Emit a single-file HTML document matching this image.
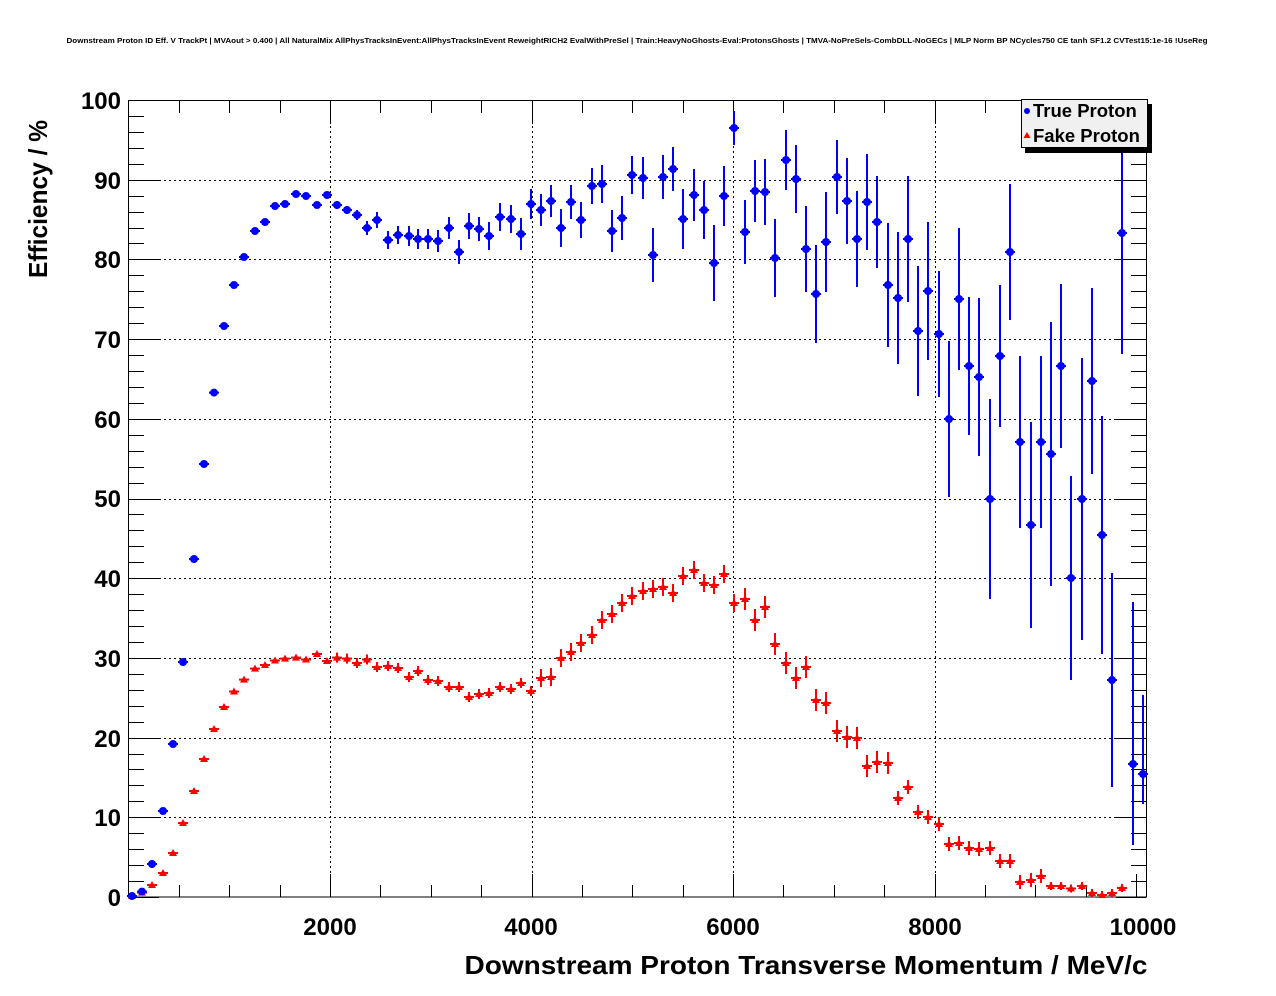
<!DOCTYPE html>
<html><head><meta charset="utf-8"><style>
html,body{margin:0;padding:0;background:#fff;}
svg{display:block;}
text{font-family:"Liberation Sans",sans-serif;font-weight:bold;fill:#000;}
</style></head><body>
<svg id="s" width="1276" height="996" viewBox="0 0 1276 996" xmlns="http://www.w3.org/2000/svg">
<rect width="1276" height="996" fill="#fff"/>
<text x="637" y="43" font-size="7.6" text-anchor="middle" textLength="1141" lengthAdjust="spacingAndGlyphs">Downstream Proton ID Eff. V TrackPt | MVAout &gt; 0.400 | All NaturalMix AllPhysTracksInEvent:AllPhysTracksInEvent ReweightRICH2 EvalWithPreSel | Train:HeavyNoGhosts-Eval:ProtonsGhosts | TMVA-NoPreSels-CombDLL-NoGECs | MLP Norm BP NCycles750 CE tanh SF1.2 CVTest15:1e-16 !UseReg</text>
<g id="grid" stroke="#000" stroke-width="1" stroke-dasharray="2,3"></g>
<g id="ticks" stroke="#000" stroke-width="1"></g>
<rect x="128.5" y="100.5" width="1018" height="796.5" fill="none" stroke="#000" stroke-width="1"/>
<g id="ylab" font-size="24" text-anchor="end">
<text x="121" y="109">100</text><text x="121" y="189">90</text><text x="121" y="268">80</text><text x="121" y="348">70</text><text x="121" y="428">60</text><text x="121" y="507">50</text><text x="121" y="587">40</text><text x="121" y="667">30</text><text x="121" y="747">20</text><text x="121" y="826">10</text><text x="121" y="906">0</text>
</g>
<g font-size="24" text-anchor="middle">
<text x="330" y="935">2000</text><text x="531" y="935">4000</text><text x="733" y="935">6000</text><text x="935" y="935">8000</text><text x="1143" y="935">10000</text>
</g>
<text x="806" y="974" font-size="26" text-anchor="middle" textLength="683" lengthAdjust="spacingAndGlyphs">Downstream Proton Transverse Momentum / MeV/c</text>
<text transform="translate(47,199) rotate(-90)" font-size="26" text-anchor="middle" textLength="158" lengthAdjust="spacingAndGlyphs">Efficiency / %</text>
<g id="red" stroke="#f00" fill="#f00" stroke-width="2"></g>
<g id="blue" stroke="#00f" fill="#00f" stroke-width="2"></g>
<rect x="1025" y="104" width="127" height="49" fill="#000"/>
<rect x="1021.5" y="99.5" width="126" height="48" fill="#f0f0f0" stroke="#000" stroke-width="1"/>
<circle cx="1027" cy="111" r="3" fill="#00f"/>
<polygon points="1027,132 1030.5,138 1023.5,138" fill="#f00"/>
<text x="1033" y="117" font-size="18.5">True Proton</text>
<text x="1033" y="142" font-size="18.5">Fake Proton</text>
</svg>
<script>
var NS="http://www.w3.org/2000/svg";
function el(p,t,a){var e=document.createElementNS(NS,t);for(var k in a)e.setAttribute(k,a[k]);p.appendChild(e);return e;}
var g=document.getElementById('grid'),tk=document.getElementById('ticks');
var X0=128.5,XS=0.100750;
function xp(v){return X0+v*XS;}
function yp(p){return 897-p*7.97;}
[2000,4000,6000,8000].forEach(function(v){var x=Math.round(xp(v))+0.5;el(g,'line',{x1:x,y1:101,x2:x,y2:896});});
for(var k=1;k<10;k++){var y=Math.round(yp(k*10))+0.5;el(g,'line',{x1:129,y1:y,x2:1146,y2:y});}
for(var v=500;v<=10000;v+=500){var x=Math.round(xp(v))+0.5;var L=(v%2000==0)?23:12;
el(tk,'line',{x1:x,y1:897,x2:x,y2:897-L});el(tk,'line',{x1:x,y1:101,x2:x,y2:101+L});}
for(var p=0;p<=100;p+=2){var y=Math.round(yp(p))+0.5;var L=(p%10==0)?30:15;
el(tk,'line',{x1:129,y1:y,x2:129+L,y2:y});el(tk,'line',{x1:1146,y1:y,x2:1146-L,y2:y});}
var XS_=[132,142,152,163,173,183,194,204,214,224,234,244,255,265,275,285,296,306,317,327,337,347,357,367,
377,388,398,409,418,428,438,449,459,469,479,489,500,511,521,531,541,551,561,571,581,592,602,
612,622,632,643,653,663,673,683,694,704,714,724,734,745,755,765,775,786,796,806,816,826,837,847,857,867,877,888,898,
908,918,928,939,949,959,969,979,990,1000,1010,1020,1031,1041,1051,1061,1071,1082,1092,1102,1112,1122,1133,1143];
var BY=[896,891.6,864,811,744,662,559,464,392.6,326,285,257,231,222,206,204,194,196,205,195,205,210,215,228,
220,240,235,236,239,239,241,228,252,226,229,236,217,219,234,204,210,201,228,202,220,186,184,
231,218,175,178,255,177,169,219,195,210,263,196,128,232,191,192,258,160,179,249,294,242,177,201,239,202,222,285,298,
239,331,291,334,419,299,366,377,499,356,252,442,525,442,454,366,578,499,381,535,680,233,764,774];
var BE=[1,1,1,1,1,1,1,1,1,1,1,1,1,1,1,1,1,1,2,3,4,4,5,7,
8,9,9,10,10,10,11,11,12,13,12,14,14,14,16,15,16,16,19,17,18,18,19,
21,22,19,21,27,22,22,30,26,29,38,30,17,32,31,33,39,30,34,43,49,50,37,43,48,48,46,62,66,
63,65,69,63,78,71,69,79,100,71,68,86,103,86,132,82,102,141,93,119,107,121,0,0];
var RY=[896,892.6,885,873,853,823,791,759,729,707,691.5,679.6,668.6,665,660.5,658.6,657.6,659.5,654,661,657.6,658.6,663,659.5,
667,666,668,677,671,680,681,687,687,697,694,693,687,689,683,691,678,677,658,652,643,635,620,614,603,596,591,589,587,593,576,570,583,585,574,603,599,620,607,644,663,678,667,700,703,
731,737,738,766,762,763,798,787,812,817,824,844,843,848,849,848,861,861,882,880,876,886,886,888.5,886,893,895,893,888];
var b=document.getElementById('blue'),r=document.getElementById('red');
for(var i=0;i<RY.length;i++){var x=XS_[i],y=RY[i];var e=i<20?2:i<40?5:i<60?9:i<75?11:i<90?7:4;
el(r,'line',{x1:x-5,y1:y,x2:x+5,y2:y});el(r,'line',{x1:x,y1:Math.max(100,y-e),x2:x,y2:Math.min(897,y+e)});
el(r,'polygon',{points:(x)+','+(y-4)+' '+(x+4)+','+(y+3)+' '+(x-4)+','+(y+3),stroke:'none'});}
for(var i=0;i<BY.length;i++){var x=XS_[i],y=BY[i],e=BE[i];var up=e,dn=e;
if(i==98){up=162;dn=81;} if(i==99){up=79;dn=30;}
el(b,'line',{x1:x-5,y1:y,x2:x+5,y2:y});
if(up>0)el(b,'line',{x1:x,y1:Math.max(100,y-up),x2:x,y2:Math.min(897,y+dn)});
el(b,'circle',{cx:x,cy:y,r:4,stroke:'none'});}
</script>
</body></html>
